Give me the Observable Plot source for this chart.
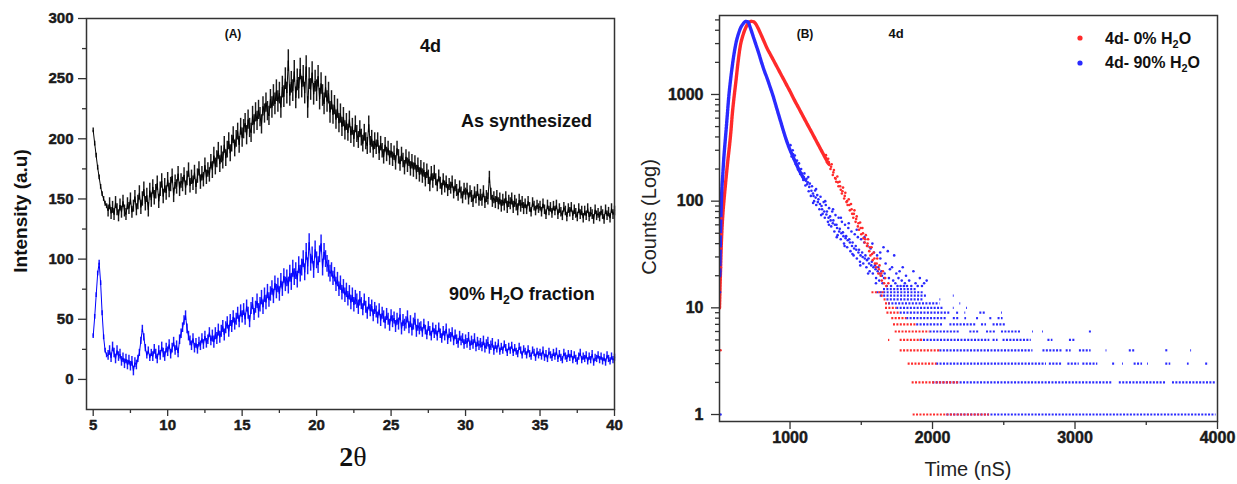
<!DOCTYPE html>
<html><head><meta charset="utf-8">
<script src="https://cdn.jsdelivr.net/npm/d3@7"></script>
<script src="https://cdn.jsdelivr.net/npm/@observablehq/plot@0.6"></script>
<style>
body{margin:0;background:#fff;}
#wrap{position:relative;width:1237px;height:484px;overflow:hidden;background:#fff;}
#pa{position:absolute;left:0;top:0;}
#pb{position:absolute;left:620px;top:0;}
</style></head><body>
<div id="wrap"><div id="pa"></div><div id="pb"></div></div>
<script>
// ---------- Panel A: XRD (2θ from 5 to 40, step 0.1) ----------
const twoThetaStart = 5, twoThetaStep = 0.1;
const asSynthesized = [
207,196,186,176,168,160,154,150,146,144,
140,146,138,143,137,147,141,136,145,139,
148,140,137,146,142,150,139,144,152,141,
147,155,143,150,158,146,153,141,157,149,
160,151,156,163,148,158,165,152,161,155,
166,157,162,169,153,164,160,171,158,165,
162,170,159,167,174,161,168,163,172,160,
169,175,164,171,166,178,168,174,170,181,
174,186,177,183,190,179,187,182,195,184,
191,198,188,196,203,192,200,206,195,210,
201,208,213,203,216,209,205,219,212,222,
215,224,218,212,227,221,230,223,219,233,
226,236,229,240,231,238,226,243,235,250,
238,265,236,247,240,256,234,249,242,258,
243,252,238,260,226,250,241,255,237,248,
240,252,233,246,236,229,243,231,238,222,
232,220,228,216,225,213,221,210,218,207,
214,205,216,203,210,200,212,204,199,208,
201,196,205,198,194,212,195,200,191,198,
193,199,188,196,190,185,195,187,192,184,
190,183,188,180,192,185,179,187,182,176,
185,178,183,175,181,174,180,172,178,170,
176,169,174,166,173,168,162,171,165,172,
166,161,169,163,158,166,160,164,157,162,
159,164,155,161,157,153,160,155,151,158,
154,158,150,156,152,148,155,151,157,149,
153,149,156,147,152,150,168,154,148,151,
147,152,146,150,144,149,145,151,143,148,
146,150,143,148,145,141,149,144,147,142,
146,141,148,143,139,147,144,140,145,142,
144,139,146,141,137,145,140,143,138,144,
140,145,137,142,139,136,143,140,135,142,
139,143,136,141,138,135,142,137,140,134,
140,136,142,135,139,137,133,141,136,138,
135,140,137,133,141,136,139,134,142,137,
140];
const water90 = [
36,52,70,88,97,80,55,35,24,20,
20,24,18,27,22,17,24,19,21,15,
18,13,17,12,16,11,15,7,14,12,
17,22,32,42,35,26,20,24,18,22,
19,25,21,17,24,20,27,22,19,26,
23,29,21,26,31,24,28,22,33,38,
43,49,53,42,36,32,28,34,26,30,
25,31,28,34,29,36,30,33,39,32,
36,31,38,34,41,35,40,44,37,43,
47,40,49,44,52,46,50,55,48,57,
52,58,50,61,55,48,59,63,54,60,
65,57,62,68,60,70,64,73,66,71,
76,69,80,73,78,71,82,75,86,79,
84,78,88,81,92,85,90,83,95,88,
93,100,89,106,94,114,97,103,91,108,
99,95,104,113,93,106,100,96,92,88,
91,84,87,79,83,75,80,72,77,70,
74,67,72,64,70,62,68,65,60,67,
63,58,66,60,55,63,57,61,53,59,
56,51,58,49,55,52,47,54,50,45,
53,48,51,44,50,46,54,42,49,45,
47,52,43,48,41,46,50,40,45,42,
44,39,46,41,37,44,40,36,43,38,
41,36,43,38,34,40,36,42,33,38,
35,39,32,37,33,30,36,32,34,29,
33,30,35,28,32,29,34,27,31,28,
30,27,32,26,29,31,25,28,30,24,
28,25,30,23,27,24,29,26,22,27,
24,28,22,26,23,21,27,24,20,25,
23,20,25,21,19,24,22,18,23,20,
22,19,24,18,21,17,23,20,18,22,
19,23,17,21,18,16,22,19,17,21,
18,21,16,20,17,15,19,22,16,19,
17,20,15,19,16,21,14,18,17,20,
16,19,15,18,14,20,17,15,19,16,
18];
// noise half-width of each trace, one value per degree (5°, 6°, ... 40°)
const asSynthesizedNoise = [2,5,5,6,6,6,6,6,7,7,8,8,9,9,9,9,8,7,7,6,6,6,6,5,5,5,5,5,5,4,4,4,4,4,4,4];
const water90Noise = [2,4,4,3,4,4,4,4,5,5,5,6,6,7,7,7,6,6,5,5,5,5,4,4,4,4,4,3,3,3,3,3,3,3,3,3];
const xrdXTicks = [5,10,15,20,25,30,35,40];
const xrdXMinor = [7.5,12.5,17.5,22.5,27.5,32.5,37.5];
const xrdYTicks = [0,50,100,150,200,250,300];
const xrdYMinor = [25,75,125,175,225,275];

// ---------- Panel B: decay (Time nS, Counts) ----------
const redCurve = [
[505,10],[512,22],[518,40],[524,60],[530,80],[536,100],[545,135],[555,186],[565,250],[575,330],[585,450],[595,660],[605,890],[620,1320],[635,2000],[650,2800],[670,3600],[690,4250],[710,4700],[730,4850],[745,4800],[760,4570],[780,4070],[800,3550],[820,3090],[840,2690],[860,2400],[880,2140],[900,1905],[920,1700],[940,1510],[960,1350],[980,1200],[1000,1070],[1030,890],[1060,750],[1090,630],[1120,530],[1150,447],[1180,376],[1210,316],[1240,266],[1270,224]];
const blueCurve = [
[507,20],[512,50],[516,80],[521,124],[528,178],[535,250],[542,330],[549,425],[558,600],[570,950],[582,1350],[595,1860],[608,2450],[622,3090],[638,3700],[655,4260],[672,4620],[690,4840],[705,4790],[720,4270],[740,3550],[760,2950],[780,2450],[800,2000],[820,1660],[840,1410],[860,1175],[880,980],[900,795],[920,645],[940,525],[960,427],[980,355],[1000,302],[1020,263],[1040,229],[1060,200],[1080,178],[1100,160]];
const blueScatter = [
[509,14],[510,22],[512,1],
[1003,335],[1011,262],[1019,300],[1026,248],[1034,268],[1041,222],[1049,240],[1056,198],[1063,226],[1071,180],[1078,200],[1086,170],[1093,158],[1101,182],[1108,140],[1116,162],[1124,150],[1131,124],[1139,146],[1146,112],[1154,138],[1161,118],[1169,100],[1176,126],[1184,92],[1191,114],[1199,104],[1206,84],[1214,110],[1221,90],[1229,76],[1236,98],[1244,70],[1251,92],[1259,80],[1266,64],[1274,86],[1281,72],[1289,58],[1296,80],[1304,66],[1311,52],[1319,74],[1326,60],[1334,48],[1341,70],[1349,55],[1356,44],[1364,64],[1371,51],[1379,40],[1386,60],[1394,47],[1401,37],[1409,56],[1416,44],[1424,34],[1431,52],[1439,41],[1446,31],[1454,49],[1461,38],[1469,29],[1476,46],[1484,35],[1491,27],[1499,44],[1506,33],[1514,26],[1521,41],[1529,31],[1536,24],[1544,38],[1551,29],[1559,22],[1566,36],[1574,27],[1581,21],[1589,33],[1596,25],[1604,19],[1611,31],[1619,24],[1626,18],[1634,29],[1641,22],[1649,17],[1656,37],[1664,21],[1671,26],[1679,16],[1686,34],[1694,19],[1701,23],[1709,16],[1716,24],[1724,18],[1731,31],[1739,17],[1746,21],[1754,16],[1761,19],[1769,22],[1776,16],[1784,18],[1791,24],[1799,16],[1806,17],[1814,20],[1821,16],[1836,18],[1851,16],[1866,22],[1881,17],[1896,16],[1911,19],[1926,16],[1941,17],[1959,18],
[1128,168],[1183,130],[1247,100],[1302,84],[1357,70],[1412,62],[1468,54],[1523,46],[1578,40],[1633,33],[1162,96],[1218,74],[1273,60],[1328,46],[1383,38],[1438,32],[1493,25],[1548,21],[1603,17],
[1006,290],[1022,275],[1037,232],[1052,215],[1067,195],[1082,182],[1097,168],[1112,155],[1120,144],[1135,136],[1150,125],[1165,112],[1180,108],[1195,98],[1210,94],[1225,84],[1240,80],[1255,75],[1270,70],[1285,66],[1300,62],[1315,60],[1330,56],[1345,52],[1360,50],[1375,47],[1390,45],[1405,43],[1420,41],[1435,38],[1450,36],[1465,35],[1480,33],[1495,31],[1510,30],[1525,29],[1540,28],[1555,26],[1570,25],[1585,24],[1600,23],[1615,22],[1630,21],[1645,20],[1660,19]];
const redScatter = [
[512,4],[514,24],[514,36],[516,49],[518,69],
[1252,270],[1260,232],[1268,250],[1276,218],[1284,200],[1292,222],[1300,176],[1308,196],[1316,165],[1324,152],[1332,170],[1340,138],[1348,152],[1356,128],[1364,118],[1372,134],[1380,106],[1388,120],[1396,98],[1404,92],[1412,104],[1420,82],[1428,94],[1436,76],[1444,70],[1452,82],[1460,64],[1468,72],[1476,58],[1484,54],[1492,63],[1500,49],[1508,56],[1516,45],[1524,41],[1532,48],[1540,38],[1548,44],[1556,34],[1564,31],[1572,37],[1580,28],[1588,33],[1596,26],[1604,24],[1612,29],[1620,21],[1628,25],[1636,20],[1644,18],[1652,22],[1660,17],[1668,19],[1676,16],[1690,17],
[1256,250],[1272,232],[1288,210],[1304,186],[1320,162],[1336,150],[1352,138],[1368,124],[1384,112],[1400,100],[1416,92],[1432,84],[1448,76],[1464,68],[1480,62],[1496,56],[1512,50],[1528,44],[1544,40],[1560,37],[1576,32],[1592,29],[1608,26],[1624,23],[1640,21]];
// rows of discrete low counts: [count, fromTime, toTime]
const redRows = [
[1,1864,2400],[2,1857,2192],[3,1829,2031],[4,1773,2052],[5,1691,1700],[5,1773,1936],[6,1738,1982],[7,1726,1889],[8,1714,1819],[9,1680,1773],[10,1670,1749],[11,1670,1700],[12,1660,1680],[13,1640,1660],[14,1575,1660]];
const blueRows = [
[1,2100,3990],
[2,2003,3264],[2,3311,3637],[2,3684,3990],
[3,2029,2800],[3,2820,2915],[3,2950,3030],[3,3055,3160],[3,3264,3288],[3,3334,3340],[3,3415,3474],[3,3509,3515],[3,3637,3672],[3,3789,3801],[3,3917,3941],
[4,2052,2705],[4,2775,2915],[4,2938,2973],[4,3031,3113],[4,3218,3224],[4,3381,3428],[4,3637,3660],[4,3812,3818],
[5,1913,2402],[5,2425,2460],[5,2495,2693],[5,2810,2845],[5,2961,3008],
[6,1982,2192],[6,2262,2332],[6,2379,2449],[6,2484,2623],[6,2702,2708],[6,2772,2778],[6,3101,3125],
[7,1889,2076],[7,2122,2309],[7,2344,2379],[7,2425,2519],
[8,1819,2099],[8,2146,2192],[8,2227,2239],[8,2309,2332],[8,2402,2425],[8,2460,2495],
[9,1773,2122],[9,2169,2192],[9,2227,2233],[9,2332,2379],[9,2484,2490],
[10,1749,2076],[10,2146,2152],[10,2239,2245],
[11,1691,2052],[11,2192,2198],
[12,1680,1936],[12,2052,2058],
[13,1633,1959],[13,2146,2152],
[14,1610,1936],[15,1656,1890]];
const decayXTicks = [1000,2000,3000,4000];
const decayXMinor = [1500,2500,3500];
const decayYTicks = [1,10,100,1000];
const decayYMinor = [2,3,4,5,6,7,8,9,20,30,40,50,60,70,80,90,200,300,400,500,600,700,800,900,2000,3000,4000,5000];

const RED = "#ff2a2a", BLUE = "#2a2aff";
const LBL = {fontFamily:"Liberation Sans, Arial, sans-serif", fontWeight:"bold", fill:"#1a1a1a", stroke:"#1a1a1a", strokeWidth:0.45};

// ---------- build Panel A ----------
const mk = (vals, noise) => vals.map((v,i)=>{
  const t = +(twoThetaStart+i*twoThetaStep).toFixed(1);
  return {t, v, w: noise[Math.min(noise.length-1, Math.floor(t)-5)]};
});
const xrdA = mk(asSynthesized, asSynthesizedNoise);
const xrdB = mk(water90, water90Noise);

const plotA = Plot.plot({
  width: 640, height: 484,
  marginLeft: 86, marginRight: 26, marginTop: 18, marginBottom: 75,
  x: {domain: [4.55, 40]},
  y: {domain: [-25, 300]},
  style: {fontFamily:"Liberation Sans, Arial, sans-serif", fontSize:"15px", color:"#222", background:"transparent"},
  marks: [
    Plot.ruleX(xrdA, {x:"t", y1: d=>d.v-d.w, y2: d=>d.v+d.w, stroke:"#000", strokeWidth:1.45, strokeOpacity:0.9}),
    Plot.line(xrdA, {x:"t", y:"v", stroke:"#000", strokeWidth:1}),
    Plot.ruleX(xrdB, {x:"t", y1: d=>d.v-d.w, y2: d=>d.v+d.w, stroke:"#0000ff", strokeWidth:1.45, strokeOpacity:0.9}),
    Plot.line(xrdB, {x:"t", y:"v", stroke:"#0000ff", strokeWidth:1}),
    Plot.axisX({ticks: xrdXTicks, tickSize: 7, tickFormat: () => "", label: null, stroke:"#333", strokeWidth:1.3}),
    Plot.axisX({ticks: xrdXMinor, tickSize: 4, tickFormat: () => "", label: null, stroke:"#333", strokeWidth:1.3}),
    Plot.axisY({ticks: xrdYTicks, tickSize: 8, tickFormat: () => "", label: null, stroke:"#333", strokeWidth:1.3}),
    Plot.axisY({ticks: xrdYMinor, tickSize: 4, tickFormat: () => "", label: null, stroke:"#333", strokeWidth:1.3}),
    Plot.text(xrdXTicks, {x: d=>d, text: d=>String(d), frameAnchor:"bottom", dy: 20, fontSize: 15, ...LBL}),
    Plot.text(xrdYTicks, {y: d=>d, text: d=>String(d), frameAnchor:"left", dx: -13, textAnchor:"end", fontSize: 15, ...LBL}),
    Plot.frame({stroke:"#333", strokeWidth:1.5})
  ]
});
document.getElementById("pa").appendChild(plotA);

// ---------- build Panel B ----------
const toPts = arr => arr.map(([t,c])=>({t,c}));
const toRows = arr => arr.map(([c,t1,t2])=>({c,t1,t2}));
const plotB = Plot.plot({
  width: 617, height: 484,
  marginLeft: 99, marginRight: 20, marginTop: 15, marginBottom: 63,
  x: {domain: [505, 4000]},
  y: {type:"log", domain: [0.86, 5500]},
  style: {fontFamily:"Liberation Sans, Arial, sans-serif", fontSize:"16px", color:"#222", background:"transparent"},
  marks: [
    Plot.ruleY(toRows(blueRows), {y:"c", x1:"t1", x2:"t2", stroke:BLUE, strokeWidth:2.2, strokeDasharray:"2,1.4", clip:true}),
    Plot.ruleY(toRows(redRows), {y:"c", x1:"t1", x2:"t2", stroke:RED, strokeWidth:2.2, strokeDasharray:"2,1.4", clip:true}),
    Plot.line(toPts(redCurve), {x:"t", y:"c", stroke:RED, strokeWidth:3.4, strokeDasharray:"2.2,0.8", curve:"monotone-x", clip:true}),
    Plot.line(toPts(blueCurve), {x:"t", y:"c", stroke:BLUE, strokeWidth:3.4, strokeDasharray:"2.2,0.8", curve:"monotone-x", clip:true}),
    Plot.dot(toPts(blueScatter), {x:"t", y:"c", r:1.3, fill:BLUE, clip:true}),
    Plot.dot(toPts(redScatter), {x:"t", y:"c", r:1.3, fill:RED, clip:true}),
    Plot.axisX({ticks: decayXTicks, tickSize: 8, tickFormat: () => "", label: null, stroke:"#333", strokeWidth:1.3}),
    Plot.axisX({ticks: decayXMinor, tickSize: 4, tickFormat: () => "", label: null, stroke:"#333", strokeWidth:1.3}),
    Plot.axisY({ticks: decayYTicks, tickSize: 8, tickFormat: () => "", label: null, stroke:"#333", strokeWidth:1.3}),
    Plot.axisY({ticks: decayYMinor, tickSize: 4, tickFormat: () => "", label: null, stroke:"#333", strokeWidth:1.3}),
    Plot.text(decayXTicks, {x: d=>d, text: d=>String(d), frameAnchor:"bottom", dy: 21, fontSize: 16, ...LBL}),
    Plot.text(decayYTicks, {y: d=>d, text: d=>String(d), frameAnchor:"left", dx: -16, textAnchor:"end", fontSize: 16, ...LBL}),
    Plot.frame({stroke:"#333", strokeWidth:1.5})
  ]
});
document.getElementById("pb").appendChild(plotB);

// ---------- annotations, axis titles, legend ----------
const ov = d3.select("#wrap").append("svg")
  .attr("width",1237).attr("height",484)
  .style("position","absolute").style("left",0).style("top",0)
  .style("font-family","Liberation Sans, Arial, sans-serif");
function txt(x,y,s,size,weight,anchor,fill){
  return ov.append("text").attr("x",x).attr("y",y).attr("font-size",size)
    .attr("font-weight",weight).attr("text-anchor",anchor).attr("fill",fill||"#111").text(s);
}
function h2o(sel, prefix, suffix){
  sel.append("tspan").text(prefix+"H");
  sel.append("tspan").attr("font-size","0.68em").attr("dy",4).text("2");
  sel.append("tspan").attr("dy",-4).text("O"+suffix);
}
txt(233,38,"(A)",12,"bold","middle");
txt(420,51.5,"4d",18,"bold","start");
txt(461,127,"As synthesized",18,"bold","start");
h2o(ov.append("text").attr("x",449).attr("y",300).attr("font-size",18).attr("font-weight","bold").attr("fill","#111"), "90% ", " fraction");
ov.append("text").attr("transform","translate(27,211) rotate(-90)").attr("text-anchor","middle")
  .attr("font-size",19).attr("font-weight","bold").attr("fill","#111").text("Intensity (a.u)");
const tt = ov.append("text").attr("x",353).attr("y",466).attr("text-anchor","middle")
  .attr("font-family","Liberation Serif, Times New Roman, serif").attr("font-size",28).attr("fill","#111");
tt.append("tspan").attr("font-weight","bold").text("2");
tt.append("tspan").text("\u03B8");
txt(805,38,"(B)",12,"bold","middle");
txt(896,38,"4d",13,"bold","middle");
ov.append("text").attr("transform","translate(656,217) rotate(-90)").attr("text-anchor","middle")
  .attr("font-size",20).attr("fill","#222").text("Counts (Log)");
txt(968,476,"Time (nS)",20,"normal","middle","#222");
ov.append("circle").attr("cx",1080).attr("cy",38).attr("r",2.6).attr("fill",RED);
ov.append("circle").attr("cx",1080).attr("cy",63).attr("r",2.6).attr("fill",BLUE);
h2o(ov.append("text").attr("x",1105).attr("y",43.5).attr("font-size",16).attr("font-weight","bold").attr("fill","#111"), "4d- 0% ", "");
h2o(ov.append("text").attr("x",1105).attr("y",68).attr("font-size",16).attr("font-weight","bold").attr("fill","#111"), "4d- 90% ", "");
</script>
</body></html>
